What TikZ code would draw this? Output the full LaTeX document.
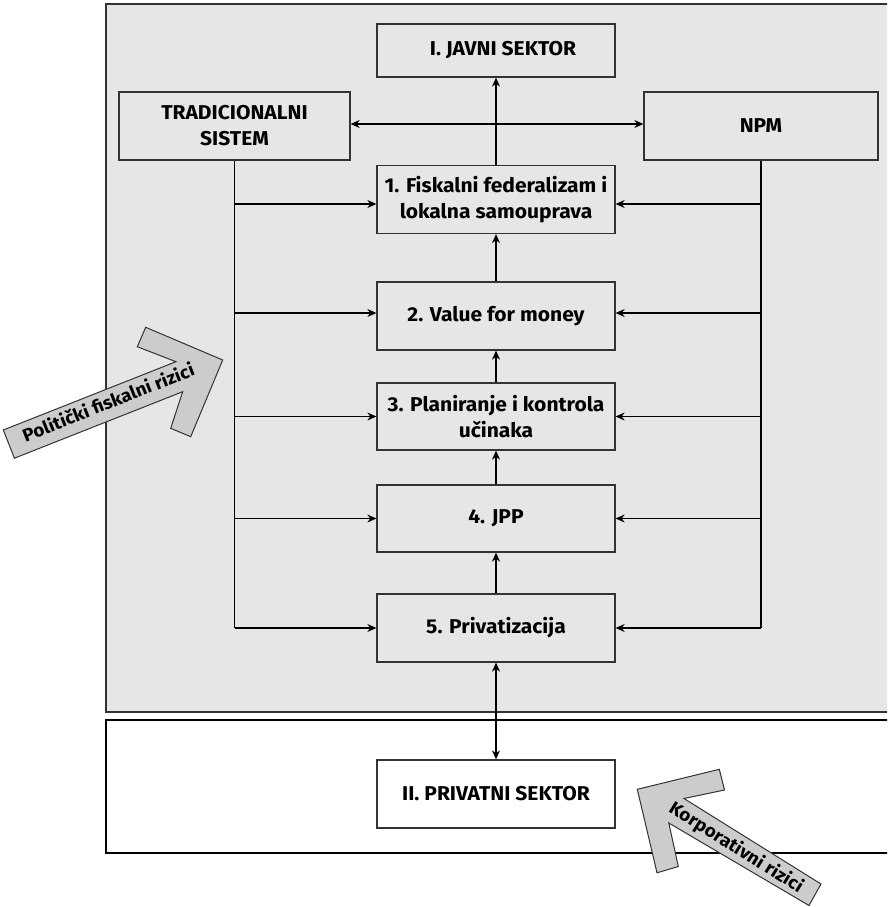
\documentclass[tikz,border=0pt]{standalone}
\usepackage{fontspec}
\setmainfont{Fira Sans}[FakeStretch=1.05]
\usetikzlibrary{arrows.meta,calc}
\definecolor{bggray}{HTML}{E6E6E6}
\definecolor{arrgray}{HTML}{CCCCCC}
\definecolor{edge}{HTML}{333333}
\tikzset{
  box/.style={draw=edge, line width=1.3pt, fill=bggray, minimum width=238pt, minimum height=68pt, inner sep=2pt, align=center, font=\fontsize{20}{26}\selectfont\bfseries},
  whitebox/.style={box, fill=white},
  conn/.style={line width=1.1pt, draw=black},
  arr/.style={conn, -{Stealth[length=9pt,width=8pt]}},
  darr/.style={conn, {Stealth[length=9pt,width=8pt]}-{Stealth[length=9pt,width=8pt]}},
  fatarrow/.style={fill=arrgray, draw=edge, line width=1pt, line join=miter},
  arrowtext/.style={font=\fontsize{18}{20}\selectfont\bfseries, inner sep=0pt}
}
\begin{document}
\begin{tikzpicture}[x=1pt,y=-1pt]
\useasboundingbox (0,0) rectangle (887,907);
\clip (0,0) rectangle (887,907);
% containers
\draw[line width=1.6pt, draw=edge, fill=bggray] (106,4) rectangle (895,712);
\draw[line width=1.4pt, draw=black] (106,720) rectangle (895,853);
% nodes
\node[box, minimum height=53pt] (javni) at (496,50.5) {\hspace*{14pt}I. JAVNI SEKTOR};
\node[box, minimum width=231pt] (trad) at (234.5,126) {TRADICIONALNI\\SISTEM};
\node[box, minimum width=234pt] (npm) at (761,126) {NPM};
\node[box] (b1) at (496,199.5) {1. Fiskalni federalizam i\\lokalna samouprava};
\node[box] (b2) at (496,316) {2. Value for money};
\node[box, minimum height=67pt] (b3) at (496,416.5) {3. Planiranje i kontrola\\učinaka};
\node[box, minimum height=67pt] (b4) at (496,518.5) {4. JPP};
\node[box] (b5) at (496,628) {5. Privatizacija};
\node[whitebox] (priv) at (496,794) {II. PRIVATNI SEKTOR};
% anchor helpers
\coordinate (b1w) at ([yshift=-4.5pt]b1.west);
\coordinate (b1e) at ([yshift=-4.5pt]b1.east);
\coordinate (b2w) at ([yshift=3pt]b2.west);
\coordinate (b2e) at ([yshift=3pt]b2.east);
\coordinate (tradE) at ([yshift=2pt]trad.east);
\coordinate (npmW) at ([yshift=2pt]npm.west);
% vertical chain
\draw[arr] (b1.north) -- (javni.south);
\draw[arr] (b2.north) -- (b1.south);
\draw[arr] (b3.north) -- (b2.south);
\draw[arr] (b4.north) -- (b3.south);
\draw[arr] (b5.north) -- (b4.south);
\draw[darr] (b5.south) -- (priv.north);
% top double arrow
\draw[darr] (tradE) -- (npmW);
% left trunk
\coordinate (lt) at (trad.south |- b5.west);
\draw[conn] (trad.south) -- (lt);
\draw[arr] (lt) -- (b5.west);
\draw[arr] (trad.south |- b1w) -- (b1w);
\draw[arr] (trad.south |- b2w) -- (b2w);
\draw[arr] (trad.south |- b3.west) -- (b3.west);
\draw[arr] (trad.south |- b4.west) -- (b4.west);
% right trunk
\coordinate (rt) at (npm.south |- b5.east);
\draw[conn] (npm.south) -- (rt);
\draw[arr] (rt) -- (b5.east);
\draw[arr] (npm.south |- b1e) -- (b1e);
\draw[arr] (npm.south |- b2e) -- (b2e);
\draw[arr] (npm.south |- b3.east) -- (b3.east);
\draw[arr] (npm.south |- b4.east) -- (b4.east);
% fat arrows
\draw[fatarrow] (3.3,430) -- (176,361.7) -- (137.3,346.7) -- (145.7,327.3) -- (222.7,360) -- (190.7,436.7) -- (170.7,428.3) -- (182.7,391.7) -- (14.4,458.2) -- cycle;
\node[arrowtext, rotate=21.6] (pol) at (108,402) {Politički fiskalni rizici};
\draw[fatarrow] (637.3,789.3) -- (719.3,769.3) -- (724.5,790) -- (684,798.5) -- (821,884) -- (809,905.5) -- (668.8,823) -- (678.3,866.5) -- (657,872.8) -- cycle;
\node[arrowtext, rotate=-32] (kor) at (736,848) {Korporativni rizici};
\end{tikzpicture}
\end{document}
